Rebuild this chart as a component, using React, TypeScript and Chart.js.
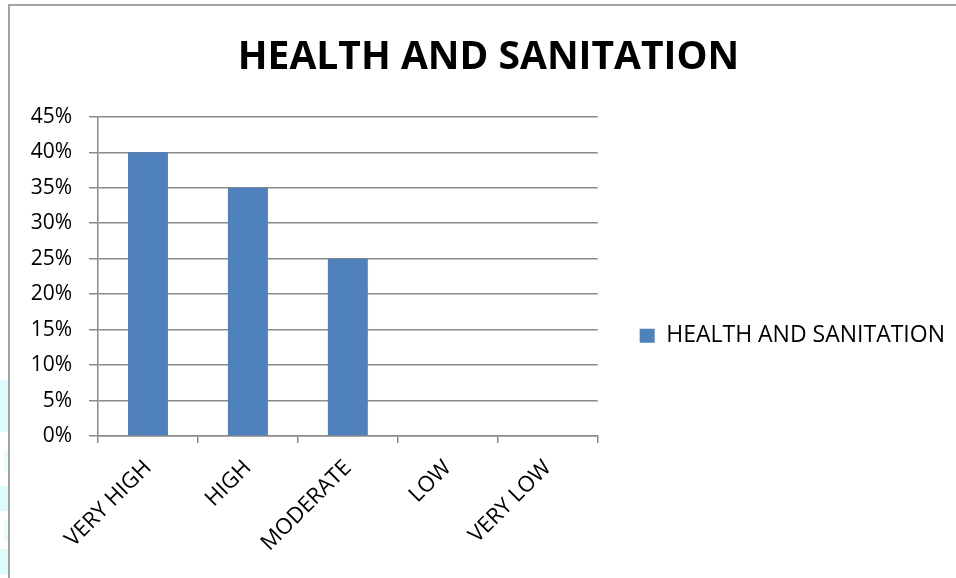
import React, { useEffect, useRef } from "react";
import { Chart, registerables } from "chart.js";

Chart.register(...registerables);

const categories = ["VERY HIGH", "HIGH", "MODERATE", "LOW", "VERY LOW"];
const seriesName = "HEALTH AND SANITATION";
const values = [40, 35, 25, 0, 0];
const chartTitle = "HEALTH AND SANITATION";
const yMax = 45;
const yStep = 5;

const BAR_BLUE = "#4f81bd";
const GRID_GREY = "#8a8a8a";

export default function App() {
  const canvasRef = useRef<HTMLCanvasElement | null>(null);

  useEffect(() => {
    const canvas = canvasRef.current;
    if (!canvas) return;
    const chart = new Chart(canvas, {
      type: "bar",
      data: {
        labels: categories,
        datasets: [
          {
            label: seriesName,
            data: values,
            backgroundColor: BAR_BLUE,
            borderColor: BAR_BLUE,
            borderWidth: 0,
            categoryPercentage: 1,
            barPercentage: 0.4,
          },
        ],
      },
      options: {
        responsive: false,
        animation: false,
        devicePixelRatio: 1,
        layout: { padding: { left: 22, right: 1, top: 0, bottom: 0 } },
        plugins: {
          title: {
            display: true,
            text: chartTitle,
            color: "#000",
            font: { family: "'Open Sans'", weight: "bold", size: 39 },
            padding: { top: 34, bottom: 36 },
          },
          legend: {
            display: true,
            position: "right",
            maxWidth: 358,
            title: {
              display: true,
              text: " ",
              color: "rgba(0,0,0,0)",
              font: { size: 78 },
              padding: 0,
            },
            labels: {
              boxWidth: 15,
              boxHeight: 14,
              padding: 42,
              color: "#000",
              font: { family: "'Open Sans'", size: 23 },
            },
          },
          tooltip: { enabled: false },
        },
        scales: {
          x: {
            offset: true,
            afterFit: (scale: any) => {
              scale.height = 142;
            },
            grid: {
              display: true,
              drawOnChartArea: false,
              drawTicks: true,
              tickLength: 7,
              color: GRID_GREY,
              lineWidth: 1.5,
              offset: true,
            },
            border: { display: true, color: GRID_GREY, width: 1.5 },
            ticks: {
              minRotation: 45,
              maxRotation: 45,
              padding: 12,
              color: "#000",
              font: { family: "'Open Sans'", size: 22 },
            },
          },
          y: {
            min: 0,
            max: yMax,
            afterFit: (scale: any) => {
              scale.width = 76;
            },
            grid: {
              color: GRID_GREY,
              lineWidth: 1.5,
              tickLength: 9,
              drawTicks: true,
            },
            border: { display: true, color: GRID_GREY, width: 1.5 },
            ticks: {
              stepSize: yStep,
              padding: 17,
              color: "#000",
              font: { family: "'Open Sans'", size: 21 },
              callback: (v: any) => `${v}%`,
            },
          },
        },
      },
    });
    return () => chart.destroy();
  }, []);

  const patch = (top: number, height: number, left = 0, opacity = 1) => (
    <div
      style={{
        position: "fixed",
        left,
        top,
        width: 8 - left,
        height,
        background: "#dcfbfd",
        opacity,
      }}
    />
  );

  return (
    <div>
      {patch(380, 52)}
      {patch(450, 22, 4, 0.6)}
      {patch(486, 25)}
      {patch(520, 22, 4, 0.6)}
      {patch(549, 25)}
      <div
        style={{
          position: "fixed",
          left: 8,
          top: 4,
          right: 0,
          bottom: 0,
          borderTop: "2px solid #a3a3a3",
          borderLeft: "2px solid #a3a3a3",
        }}
      />
      <canvas
        ref={canvasRef}
        width={956}
        height={578}
        style={{ position: "fixed", left: 0, top: 0, width: 956, height: 578 }}
      />
    </div>
  );
}
